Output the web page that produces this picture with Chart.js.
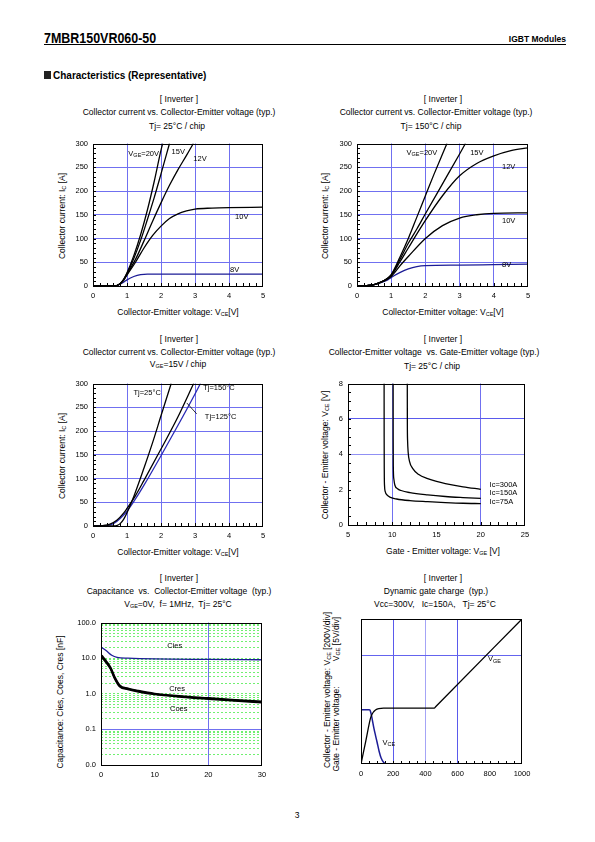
<!DOCTYPE html>
<html>
<head>
<meta charset="utf-8">
<script src="https://cdn.jsdelivr.net/npm/chart.js@4.4.1/dist/chart.umd.min.js"></script>
<style>
  body { margin: 0; background: #fff; }
  #page { position: relative; width: 595px; height: 842px; overflow: hidden;
    font-family: "Liberation Sans", Arial, sans-serif; color: #000; }
  .t { position: absolute; white-space: pre; font-size: 8.5px; line-height: 1; transform: translate(-50%, -50%); }
  .l { position: absolute; white-space: pre; line-height: 1; transform: translate(0, -50%); }
  .r { transform: translate(-50%, -50%) rotate(-90deg); }
  sub { font-size: 5.5px; vertical-align: -1.5px; line-height: 0; }
  canvas { position: absolute; }
</style>
</head>
<body>
<div id="page">
  <div class="l" style="left:44px;top:38px;font:bold 14px 'Liberation Sans',Arial;transform:translate(0,-50%) scaleX(0.89);transform-origin:0 50%;">7MBR150VR060-50</div>
  <div class="l" style="left:500px;top:39px;width:66px;text-align:right;font:bold 8.5px 'Liberation Sans',Arial;">IGBT Modules</div>
  <div style="position:absolute;left:44px;top:44px;width:522px;height:1px;background:#000;"></div>
  <div style="position:absolute;left:44px;top:71px;width:7px;height:8px;background:#222;"></div>
  <div class="l" style="left:53px;top:75px;font:bold 10px 'Liberation Sans',Arial;">Characteristics (Representative)</div>

  <!-- chart 1 -->
  <div class="t" style="left:179px;top:99px;">[ Inverter ]</div>
  <div class="t" style="left:179px;top:112px;">Collector current vs. Collector-Emitter voltage (typ.)</div>
  <div class="t" style="left:177px;top:126px;">Tj= 25°C / chip</div>
  <div class="t r" style="left:62px;top:216px;">Collector current: I<sub>C</sub> [A]</div>
  <div class="t" style="left:178px;top:312px;">Collector-Emitter voltage: V<sub>CE</sub>[V]</div>

  <!-- chart 2 -->
  <div class="t" style="left:443px;top:99px;">[ Inverter ]</div>
  <div class="t" style="left:436px;top:112px;">Collector current vs. Collector-Emitter voltage (typ.)</div>
  <div class="t" style="left:431px;top:126px;">Tj= 150°C / chip</div>
  <div class="t r" style="left:325px;top:216px;">Collector current: I<sub>C</sub> [A]</div>
  <div class="t" style="left:443px;top:312px;">Collector-Emitter voltage: V<sub>CE</sub>[V]</div>

  <!-- chart 3 -->
  <div class="t" style="left:179px;top:339px;">[ Inverter ]</div>
  <div class="t" style="left:179px;top:352px;">Collector current vs. Collector-Emitter voltage (typ.)</div>
  <div class="t" style="left:178px;top:364px;">V<sub>GE</sub>=15V / chip</div>
  <div class="t r" style="left:62px;top:456px;">Collector current: I<sub>C</sub> [A]</div>
  <div class="t" style="left:178px;top:552px;">Collector-Emitter voltage: V<sub>CE</sub>[V]</div>

  <!-- chart 4 -->
  <div class="t" style="left:443px;top:339px;">[ Inverter ]</div>
  <div class="t" style="left:434px;top:352px;">Collector-Emitter voltage  vs. Gate-Emitter voltage (typ.)</div>
  <div class="t" style="left:432px;top:366px;">Tj= 25°C / chip</div>
  <div class="t r" style="left:325px;top:455px;">Collector - Emitter voltage: V<sub>CE</sub> [V]</div>
  <div class="t" style="left:443px;top:551px;">Gate - Emitter voltage: V<sub>GE</sub> [V]</div>

  <!-- chart 5 -->
  <div class="t" style="left:179px;top:578px;">[ Inverter ]</div>
  <div class="t" style="left:179px;top:591px;">Capacitance  vs.  Collector-Emitter voltage  (typ.)</div>
  <div class="t" style="left:178px;top:604px;">V<sub>GE</sub>=0V,  f= 1MHz,  Tj= 25°C</div>
  <div class="t r" style="left:60px;top:702px;">Capacitance: Cies, Coes, Cres [nF]</div>

  <!-- chart 6 -->
  <div class="t" style="left:443px;top:578px;">[ Inverter ]</div>
  <div class="t" style="left:436px;top:591px;">Dynamic gate charge  (typ.)</div>
  <div class="t" style="left:435px;top:604px;">Vcc=300V,   Ic=150A,   Tj= 25°C</div>
  <div class="t r" style="left:327px;top:690px;">Collector - Emitter voltage: V<sub>CE</sub> [200V/div]</div>
  <div class="t r" style="left:336px;top:729px;">Gate - Emitter voltage:</div>
  <div class="t r" style="left:336px;top:639px;">V<sub>GE</sub> [5V/div]</div>

  <div class="t" style="left:297px;top:815px;">3</div>
</div>
<script>
(function () {
  "use strict";

  // ---- data ----
  // Ic vs Vce, Tj=25C  [Vce, Ic]
  var T25_20V = [[0,0],[0.6,0],[0.7,1],[0.8,5],[0.9,14],[1.0,28],[1.2,64],[1.4,108],[1.6,160],[1.8,220],[2.0,286],[2.05,300]];
  var T25_15V = [[0,0],[0.6,0],[0.7,1],[0.8,5],[0.9,13],[1.0,26],[1.2,58],[1.4,96],[1.6,140],[1.8,186],[2.0,236],[2.25,300]];
  var T25_12V = [[0,0],[0.6,0],[0.7,1],[0.8,5],[0.9,13],[1.0,25],[1.25,56],[1.5,95],[1.75,136],[2.0,175],[2.25,212],[2.5,245],[2.75,275],[2.95,300]];
  var T25_10V = [[0,0],[0.6,0],[0.7,1],[0.8,5],[0.9,12],[1.0,23],[1.25,50],[1.5,80],[1.75,106],[2.0,126],[2.25,142],[2.5,152],[2.75,158],[3.0,162],[3.5,164],[4.0,165],[5.0,166]];
  var T25_8V  = [[0,0],[0.6,0],[0.7,1],[0.8,4],[0.9,8],[1.0,13],[1.2,20],[1.4,24],[1.6,25],[2.0,25],[5.0,25]];

  // Ic vs Vce, Tj=150C
  var T150_20V = [[0,0],[0.3,1],[0.5,3],[0.7,8],[0.9,17],[1.0,24],[1.25,60],[1.5,100],[1.75,145],[2.0,190],[2.25,235],[2.5,278],[2.63,300]];
  var T150_15V = [[0,0],[0.3,1],[0.5,3],[0.7,8],[0.9,16],[1.0,23],[1.25,55],[1.5,90],[1.75,120],[2.0,152],[2.5,215],[3.0,278],[3.17,300]];
  var T150_12V = [[0,0],[0.3,1],[0.5,3],[0.7,8],[0.9,16],[1.0,22],[1.25,50],[1.5,80],[2.0,138],[2.5,190],[3.0,232],[3.5,258],[4.0,274],[4.5,285],[5.0,291]];
  var T150_10V = [[0,0],[0.3,1],[0.5,3],[0.7,8],[0.9,15],[1.0,20],[1.25,42],[1.5,62],[2.0,100],[2.5,127],[3.0,143],[3.5,150],[4.0,153],[5.0,154]];
  var T150_8V  = [[0,0],[0.3,1],[0.5,3],[0.7,7],[0.9,13],[1.0,18],[1.25,28],[1.5,36],[1.75,41],[2.0,43],[3.0,44],[4.0,45],[5.0,46]];

  // Ic vs Vce, Vge=15V
  var V15_25C  = [[0,0],[0.6,0],[0.7,1],[0.8,5],[0.9,14],[1.0,28],[1.2,62],[1.5,122],[1.75,175],[2.0,232],[2.3,300]];
  var V15_150C = [[0,0],[0.3,1],[0.5,4],[0.7,12],[0.9,27],[1.0,37],[1.25,64],[1.5,96],[2.0,162],[2.5,230],[2.96,300]];
  var V15_125C = [[0,0],[0.4,1],[0.6,5],[0.8,16],[1.0,31],[1.25,57],[1.5,86],[2.0,148],[2.5,212],[3.0,278],[3.16,300]];

  // Vce vs Vge, Tj=25C  [Vge, Vce]
  var IC300 = [[11.7,8],[11.705,6],[11.73,4.8],[11.8,4.1],[11.95,3.6],[12.3,3.2],[13,2.85],[14,2.62],[15,2.46],[16,2.34],[18,2.16],[20,2.02]];
  var IC150 = [[10.1,8],[10.105,5],[10.12,3.3],[10.18,2.6],[10.3,2.25],[10.6,2.05],[11,1.95],[12,1.83],[14,1.7],[16,1.61],[18,1.55],[20,1.5]];
  var IC75  = [[9.08,8],[9.085,5],[9.1,3],[9.13,2.2],[9.2,1.9],[9.4,1.7],[9.8,1.56],[10.5,1.47],[12,1.38],[14,1.32],[16,1.27],[18,1.23],[20,1.21]];

  // Capacitance vs Vce  [Vce, nF]
  var CIES = [[0.1,20],[1,16],[2,12],[3,10.5],[5,10],[10,9.5],[20,9.2],[30,9.0]];
  var CRES = [[0.1,12],[1,8],[1.8,5.3],[2.5,3],[3.5,1.7],[5,1.4],[7,1.2],[10,1.0],[15,0.85],[20,0.75],[25,0.66],[30,0.6]];
  var COES = [[0.1,11],[1,7.5],[1.8,5],[2.5,2.8],[3.5,1.6],[5,1.35],[7,1.15],[10,0.97],[15,0.82],[20,0.72],[25,0.64],[30,0.57]];
  var CAP_DECADES = [0.01, 0.1, 1, 10, 100];

  // Gate charge  [Qg nC, V]
  var QG_VGE = [[0,0],[30,3.2],[60,6.4],[75,7.1],[90,7.45],[110,7.65],[140,7.7],[455,7.7],[465,7.93],[1000,20]];
  var QG_VCE = [[0,300],[50,300],[56,297],[62,280],[70,245],[80,198],[90,158],[100,120],[112,72],[125,33],[140,10],[155,2],[170,0]];

  // ---- styling ----
  var BLUE = "#7070f0";
  var NAVY = "#1c1c96";
  var GREEN = "#70f070";
  var PAD_L = 40, PAD_T = 8, PAD_R = 14, PAD_B = 22;

  Chart.defaults.font.family = "'Liberation Sans', Arial, sans-serif";
  Chart.defaults.font.size = 7.5;
  Chart.defaults.color = "#000";

  function pts(a) { return a.map(function (p) { return { x: p[0], y: p[1] }; }); }
  function ds(a, color, w, extra) {
    var d = { data: pts(a), borderColor: color, borderWidth: w || 1.3, pointRadius: 0,
      fill: false, cubicInterpolationMode: "monotone" };
    for (var k in extra || {}) d[k] = extra[k];
    return d;
  }

  function makeCanvas(L, T, R, B) {
    var c = document.createElement("canvas");
    c.width = R - L + PAD_L + PAD_R;
    c.height = B - T + PAD_T + PAD_B;
    c.style.left = (L - PAD_L) + "px";
    c.style.top = (T - PAD_T) + "px";
    document.getElementById("page").appendChild(c);
    return c;
  }

  function innerGrid(color, keep) {
    return function (ctx) {
      if (!ctx.tick) return "rgba(0,0,0,0)";
      var v = ctx.tick.value;
      if (keep) return keep[v] || "rgba(0,0,0,0)";
      return (v > ctx.scale.min && v < ctx.scale.max) ? color : "rgba(0,0,0,0)";
    };
  }
  function plain(v) { return String(v); }

  function xAxis(min, max, step, grid, extra) {
    var o = { type: "linear", position: "bottom", min: min, max: max,
      ticks: { stepSize: step, padding: 5, maxRotation: 0, autoSkip: false, callback: plain },
      grid: { color: grid, drawTicks: false }, border: { display: false },
      afterFit: function (s) { s.height = PAD_B; } };
    for (var k in extra || {}) o[k] = extra[k];
    return o;
  }
  function yAxis(min, max, step, grid, extra) {
    var o = { type: "linear", position: "left", min: min, max: max,
      ticks: { stepSize: step, padding: 5, autoSkip: false, callback: plain },
      grid: { color: grid, drawTicks: false }, border: { display: false },
      afterFit: function (s) { s.width = PAD_L; } };
    for (var k in extra || {}) o[k] = extra[k];
    return o;
  }

  // black frame + short inward ticks
  var framePlugin = {
    id: "frame",
    afterDraw: function (c) {
      var a = c.chartArea, g = c.ctx, o = c.options.plugins.frame || {};
      g.save();
      g.strokeStyle = "#000"; g.lineWidth = 1;
      g.strokeRect(Math.round(a.left) + 0.5, Math.round(a.top) + 0.5,
        Math.round(a.right - a.left) - 1, Math.round(a.bottom - a.top) - 1);
      var v, p, n;
      if (o.xStep) {
        var sx = c.scales.x;
        n = Math.round((sx.max - sx.min) / o.xStep);
        for (var i = 1; i < n; i++) {
          v = sx.min + i * o.xStep;
          p = Math.round(sx.getPixelForValue(v)) + 0.5;
          g.beginPath(); g.moveTo(p, a.bottom); g.lineTo(p, a.bottom - 3); g.stroke();
        }
      }
      if (o.yStep) {
        var sy = c.scales.y;
        n = Math.round((sy.max - sy.min) / o.yStep);
        for (var j = 1; j < n; j++) {
          v = sy.min + j * o.yStep;
          p = Math.round(sy.getPixelForValue(v)) + 0.5;
          g.beginPath(); g.moveTo(a.left, p); g.lineTo(a.left + 3, p); g.stroke();
        }
      }
      g.restore();
    }
  };

  // curve labels at data coordinates; parts starting with "_" are subscripts
  var labelPlugin = {
    id: "curveLabels",
    afterDatasetsDraw: function (c) {
      var list = c.options.plugins.curveLabels || [];
      var g = c.ctx;
      g.save();
      g.fillStyle = "#000"; g.strokeStyle = "#000"; g.lineWidth = 0.8;
      g.textBaseline = "middle"; g.textAlign = "left";
      list.forEach(function (l) {
        var sy = c.scales[l.axis || "y"], sx = c.scales.x;
        if (l.line) {
          g.beginPath();
          g.moveTo(sx.getPixelForValue(l.line[0]), sy.getPixelForValue(l.line[1]));
          g.lineTo(sx.getPixelForValue(l.line[2]), sy.getPixelForValue(l.line[3]));
          g.stroke();
        }
        var px = sx.getPixelForValue(l.x), py = sy.getPixelForValue(l.y);
        (l.parts || []).forEach(function (p) {
          var sub = p.charAt(0) === "_", s = sub ? p.slice(1) : p;
          g.font = (sub ? 5.5 : 7.5) + "px 'Liberation Sans', Arial, sans-serif";
          g.fillText(s, px, py + (sub ? 2 : 0));
          px += g.measureText(s).width;
        });
      });
      g.restore();
    }
  };

  function baseOptions(scales, plugins) {
    var p = { legend: { display: false }, tooltip: { enabled: false } };
    for (var k in plugins) p[k] = plugins[k];
    return { responsive: false, animation: false, events: [],
      layout: { padding: { left: 0, top: PAD_T, right: PAD_R, bottom: 0 } },
      scales: scales, plugins: p };
  }

  function icChart(L, T, R, B, sets, labels) {
    new Chart(makeCanvas(L, T, R, B), {
      type: "line",
      data: { datasets: sets },
      options: baseOptions(
        { x: xAxis(0, 5, 1, innerGrid(BLUE)), y: yAxis(0, 300, 50, innerGrid(BLUE)) },
        { frame: { xStep: 0.2, yStep: 10 }, curveLabels: labels }),
      plugins: [framePlugin, labelPlugin]
    });
  }

  // 1: Tj=25C
  icChart(93, 142, 263, 286, [
    ds(T25_20V, "#000"), ds(T25_15V, "#000"), ds(T25_12V, "#000"),
    ds(T25_10V, "#000"), ds(T25_8V, NAVY)
  ], [
    { x: 1.04, y: 279, parts: ["V", "_GE", "=20V"] },
    { x: 2.31, y: 283, parts: ["15V"] },
    { x: 2.95, y: 267, parts: ["12V"] },
    { x: 4.18, y: 146, parts: ["10V"] },
    { x: 4.03, y: 33, parts: ["8V"] }
  ]);

  // 2: Tj=150C
  icChart(357, 142, 528, 286, [
    ds(T150_20V, "#000"), ds(T150_15V, "#000"), ds(T150_12V, "#000"),
    ds(T150_10V, "#000"), ds(T150_8V, NAVY)
  ], [
    { x: 1.45, y: 281, parts: ["V", "_GE", "=20V"] },
    { x: 3.31, y: 281, parts: ["15V"] },
    { x: 4.24, y: 250, parts: ["12V"] },
    { x: 4.24, y: 136, parts: ["10V"] },
    { x: 4.24, y: 44, parts: ["8V"] }
  ]);

  // 3: Vge=15V
  icChart(93, 382, 263, 526, [
    ds(V15_25C, "#000"), ds(V15_150C, "#000"), ds(V15_125C, "#2a2ab4")
  ], [
    { x: 1.19, y: 281, parts: ["Tj=25°C"] },
    { x: 3.24, y: 290, parts: ["Tj=150°C"] },
    { x: 3.29, y: 229, parts: ["Tj=125°C"], line: [3.05, 236, 2.76, 259] }
  ]);

  // 4: Vce vs Vge
  new Chart(makeCanvas(348, 382, 525, 525), {
    type: "line",
    data: { datasets: [ds(IC300, "#000"), ds(IC150, "#000"), ds(IC75, "#000")] },
    options: baseOptions({
      x: xAxis(5, 25, 5, innerGrid(BLUE, { 10: BLUE, 20: BLUE })),
      y: yAxis(0, 8, 2, innerGrid(BLUE, { 4: "#9090f4", 6: "#5a5aec" }))
    }, {
      frame: { xStep: 1, yStep: 0.5 },
      curveLabels: [
        { x: 21.0, y: 2.28, parts: ["Ic=300A"] },
        { x: 21.0, y: 1.79, parts: ["Ic=150A"] },
        { x: 21.0, y: 1.28, parts: ["Ic=75A"] }
      ]
    }),
    plugins: [framePlugin, labelPlugin]
  });

  // 5: capacitance (log)
  function capTicks(s) {
    var t = [];
    for (var e = -2; e < 2; e++) {
      for (var k = 1; k < 10; k++) t.push({ value: k * Math.pow(10, e) });
    }
    t.push({ value: 100 });
    s.ticks = t;
  }
  function isDecade(v) {
    return CAP_DECADES.some(function (d) { return Math.abs(v - d) < d * 1e-6; });
  }
  new Chart(makeCanvas(101, 621, 262, 765), {
    type: "line",
    data: { datasets: [ds(CIES, NAVY, 1.3), ds(CRES, "#000", 2.2), ds(COES, "#000", 2.2)] },
    options: baseOptions({
      x: xAxis(0, 30, 10, innerGrid(BLUE, { 20: BLUE })),
      y: yAxis(0.01, 100, null, function (ctx) {
        if (!ctx.tick) return "rgba(0,0,0,0)";
        var v = ctx.tick.value;
        if (Math.abs(v - 0.01) < 1e-9 || Math.abs(v - 100) < 1e-6) return "rgba(0,0,0,0)";
        if (Math.abs(v - 0.1) < 1e-9) return BLUE;
        return GREEN;
      }, {
        type: "logarithmic",
        afterBuildTicks: capTicks,
        ticks: { padding: 5, autoSkip: false,
          callback: function (v) { return isDecade(v) ? v.toFixed(1) : ""; } },
        border: { display: false, dash: function (ctx) {
          return ctx.tick && Math.abs(ctx.tick.value - 0.1) < 1e-9 ? [] : [2, 2];
        } }
      })
    }, {
      frame: {},
      curveLabels: [
        { x: 12.35, y: 22.6, parts: ["Cies"] },
        { x: 12.7, y: 1.34, parts: ["Cres"] },
        { x: 12.85, y: 0.387, parts: ["Coes"] }
      ]
    }),
    plugins: [framePlugin, labelPlugin]
  });

  // 6: gate charge
  new Chart(makeCanvas(361, 619, 522, 764), {
    type: "line",
    data: { datasets: [
      ds(QG_VGE, "#000", 1.3, { yAxisID: "y" }),
      ds(QG_VCE, NAVY, 1.5, { yAxisID: "y2" })
    ] },
    options: baseOptions({
      x: xAxis(0, 1000, 200, innerGrid(BLUE, { 200: "#5a5aec", 400: "#a4a4f6", 600: "#5a5aec" })),
      y: yAxis(0, 20, 5, innerGrid(BLUE, { 15: "#6464ee" }), {
        ticks: { display: false, stepSize: 5 } }),
      y2: { type: "linear", display: false, min: 0, max: 800 }
    }, {
      frame: { xStep: 50 },
      curveLabels: [
        { x: 789, y: 14.45, parts: ["V", "_GE"] },
        { x: 134, y: 2.97, parts: ["V", "_CE"] }
      ]
    }),
    plugins: [framePlugin, labelPlugin]
  });
})();
</script>
</body>
</html>
